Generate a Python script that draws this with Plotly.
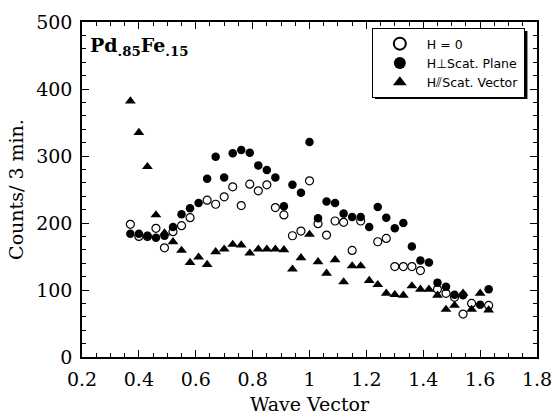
import plotly.graph_objects as go

wave_vector = [0.37, 0.40, 0.43, 0.46, 0.49, 0.52, 0.55, 0.58, 0.61, 0.64, 0.67,
               0.70, 0.73, 0.76, 0.79, 0.82, 0.85, 0.88, 0.91, 0.94, 0.97, 1.00,
               1.03, 1.06, 1.09, 1.12, 1.15, 1.18, 1.21, 1.24, 1.27, 1.30, 1.33,
               1.36, 1.39, 1.42, 1.45, 1.48, 1.51, 1.54, 1.57, 1.60, 1.63]

h_zero = [198, 180, 180, 192, 163, 187, 196, 208, None, 234, 228,
          239, 254, 226, 258, 248, 257, 223, 212, 181, 188, 263,
          199, 182, 203, 201, 159, 203, None, 172, 177, 135, 135,
          135, 129, None, 101, 95, 89, 64, 80, None, 77]

h_perp_plane = [184, 184, 181, 178, 181, 194, 213, 222, 230, 266, 299,
                268, 304, 309, 305, 286, 279, 268, 225, 257, 245, 321,
                207, 232, 230, 214, 209, 209, 194, 224, 208, 192, 200,
                165, 144, 141, 111, 105, 93, 92, None, 78, 101]

h_par_vector = [382, 335, 284, 212, 185, 172, 159, 141, 149, 138, 157,
                161, 168, 167, 155, 161, 161, 161, 160, 131, 148, 183,
                142, 125, 145, 112, 136, 136, 114, 108, 95, 93, 92,
                106, 101, 101, 92, 71, 77, 95, 71, 95, 70]

series_names = ["H = 0", "H\u22a5Scat. Plane", "H\u2afdScat. Vector"]

fig = go.Figure()
fig.add_trace(go.Scatter(x=wave_vector, y=h_zero, mode="markers", name=series_names[0],
                         marker=dict(symbol="circle-open", size=8, color="black",
                                     line=dict(width=1.2, color="black"))))
fig.add_trace(go.Scatter(x=wave_vector, y=h_perp_plane, mode="markers", name=series_names[1],
                         marker=dict(symbol="circle", size=8.5, color="black")))
fig.add_trace(go.Scatter(x=wave_vector, y=h_par_vector, mode="markers", name=series_names[2],
                         marker=dict(symbol="triangle-up", size=9.5, color="black")))

serif = "DejaVu Serif, Liberation Serif, serif"
axis_common = dict(showline=True, linecolor="black", linewidth=1.5, mirror="ticks",
                   ticks="inside", ticklen=7, tickwidth=1, tickcolor="black",
                   showgrid=False, zeroline=False, ticklabelstandoff=4, automargin=False,
                   tickfont=dict(family=serif, size=19, color="black"),
                   minor=dict(ticks="inside", ticklen=4, tickwidth=1, tickcolor="black"))

fig.update_xaxes(range=[0.2, 1.8], dtick=0.2, tick0=0.2, minor_dtick=0.05,
                 title=dict(text="Wave Vector", font=dict(family=serif, size=19, color="black"),
                            standoff=9),
                 **axis_common)
fig.update_yaxes(range=[0, 500], dtick=100, minor_dtick=20,
                 title=dict(text="Counts/ 3 min.", font=dict(family=serif, size=19, color="black"),
                            standoff=8),
                 **axis_common)

fig.add_annotation(x=0.013, y=0.885, xref="paper", yref="paper", xanchor="left", yanchor="bottom",
                   text="<b>Pd<sub>.85</sub>Fe<sub>.15</sub></b>", showarrow=False,
                   font=dict(family=serif, size=19, color="black"))

# legend shadow
fig.add_shape(type="rect", xref="paper", yref="paper", x0=0.644, x1=0.979, y0=0.770, y1=0.973,
              fillcolor="black", line=dict(width=0), layer="above")

fig.update_layout(
    width=555, height=418,
    margin=dict(l=82, r=18, t=22, b=61, autoexpand=False),
    paper_bgcolor="white", plot_bgcolor="white",
    showlegend=True,
    legend=dict(x=0.637, y=0.982, xanchor="left", yanchor="top",
                bgcolor="white", bordercolor="black", borderwidth=1,
                font=dict(family="DejaVu Sans, Liberation Sans, sans-serif", size=12.5, color="black"),
                tracegroupgap=0, itemsizing="constant", itemwidth=44),
)

fig.write_html("out.html",
               config={"displayModeBar": False},
               post_script="document.body.style.margin='0';"
                           "document.body.style.overflow='hidden';"
                           "document.documentElement.style.overflow='hidden';")
